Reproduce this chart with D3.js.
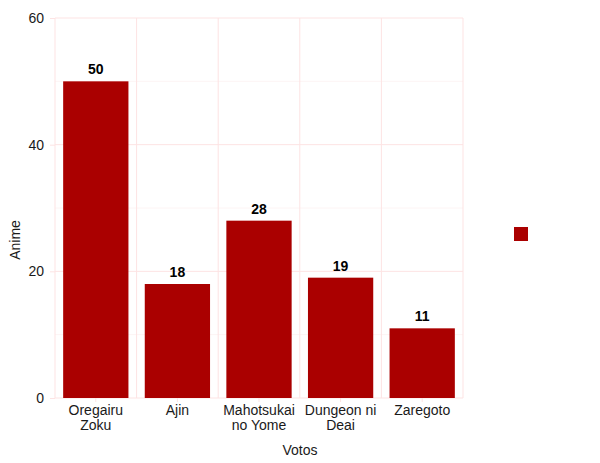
<!DOCTYPE html>
<html><head><meta charset="utf-8">
<script src="https://cdn.jsdelivr.net/npm/d3@7"></script>
<style>body{margin:0;background:#fff}svg{display:block;font-family:"Liberation Sans",Arial,sans-serif}</style>
</head><body><svg id="c" width="600" height="463"></svg>
<script>
const categories = ["Oregairu Zoku", "Ajin", "Mahotsukai no Yome", "Dungeon ni Deai", "Zaregoto"];
const labelLines = [["Oregairu","Zoku"],["Ajin"],["Mahotsukai","no Yome"],["Dungeon ni","Deai"],["Zaregoto"]];
const values = [50, 18, 28, 19, 11];
const yTicks = [0, 20, 40, 60];
const yMinor = [10, 30, 50];

const svg = d3.select("#c");
const L = 55, R = 463, T = 18, B = 398;
const x = d3.scaleBand().domain(categories).range([L, R]).paddingInner(0).paddingOuter(0);
const y = d3.scaleLinear().domain([0, 60]).range([B, T]);
const grid = "#fde3e3", minor = "#fdf4f4";

// minor gridlines
svg.append("g").selectAll("line").data(yMinor).join("line")
  .attr("x1", L).attr("x2", R).attr("y1", d => y(d)).attr("y2", d => y(d))
  .attr("stroke", minor).attr("stroke-width", 1);
// major horizontal gridlines
svg.append("g").selectAll("line").data(yTicks).join("line")
  .attr("x1", L).attr("x2", R).attr("y1", d => y(d)).attr("y2", d => y(d))
  .attr("stroke", grid).attr("stroke-width", 1);
// vertical gridlines at band boundaries
const bounds = categories.map(c => x(c)).concat([R]);
svg.append("g").selectAll("line").data(bounds).join("line")
  .attr("x1", d => d).attr("x2", d => d).attr("y1", T).attr("y2", B)
  .attr("stroke", grid).attr("stroke-width", 1);

// y axis
const yAxis = svg.append("g").attr("transform", `translate(${L},0)`)
  .call(d3.axisLeft(y).tickValues(yTicks).tickSize(5).tickPadding(6));
yAxis.select(".domain").remove();
yAxis.selectAll(".tick line").attr("stroke", grid);
yAxis.selectAll(".tick text").attr("fill", "#1a1a1a").style("font-size", "14px")
  .style("font-family", '"Liberation Sans",Arial,sans-serif');

// x axis ticks
svg.append("g").selectAll("line").data(categories).join("line")
  .attr("x1", d => x(d) + x.bandwidth()/2).attr("x2", d => x(d) + x.bandwidth()/2)
  .attr("y1", B).attr("y2", B + 4).attr("stroke", grid);

// bars
const bw = x.bandwidth() * 0.8;
svg.append("g").selectAll("rect").data(values).join("rect")
  .attr("x", (d, i) => x(categories[i]) + (x.bandwidth() - bw)/2)
  .attr("y", d => y(d)).attr("width", bw).attr("height", d => B - y(d))
  .attr("fill", "#aa0000");

// value labels
svg.append("g").selectAll("text").data(values).join("text")
  .attr("x", (d, i) => x(categories[i]) + x.bandwidth()/2)
  .attr("y", d => y(d) - 7)
  .attr("text-anchor", "middle").attr("font-weight", "bold").attr("font-size", 14)
  .attr("fill", "#000").text(d => d);

// x labels
const xl = svg.append("g").selectAll("text").data(categories).join("text")
  .attr("text-anchor", "middle").attr("font-size", 14).attr("fill", "#1a1a1a")
  .attr("x", d => x(d) + x.bandwidth()/2).attr("y", B + 17);
xl.each(function(d, i) {
  const t = d3.select(this);
  labelLines[i].forEach((ln, j) => {
    t.append("tspan").attr("x", x(d) + x.bandwidth()/2).attr("dy", j === 0 ? 0 : 15).text(ln);
  });
});

// axis titles
svg.append("text").attr("x", 300).attr("y", 455).attr("text-anchor", "middle")
  .attr("font-size", 14).attr("fill", "#1a1a1a").text("Votos");
svg.append("text").attr("transform", `translate(20,240) rotate(-90)`)
  .attr("text-anchor", "middle").attr("font-size", 14).attr("fill", "#1a1a1a").text("Anime");

// legend key
svg.append("rect").attr("x", 514).attr("y", 227).attr("width", 14).attr("height", 14).attr("fill", "#aa0000");
</script></body></html>
